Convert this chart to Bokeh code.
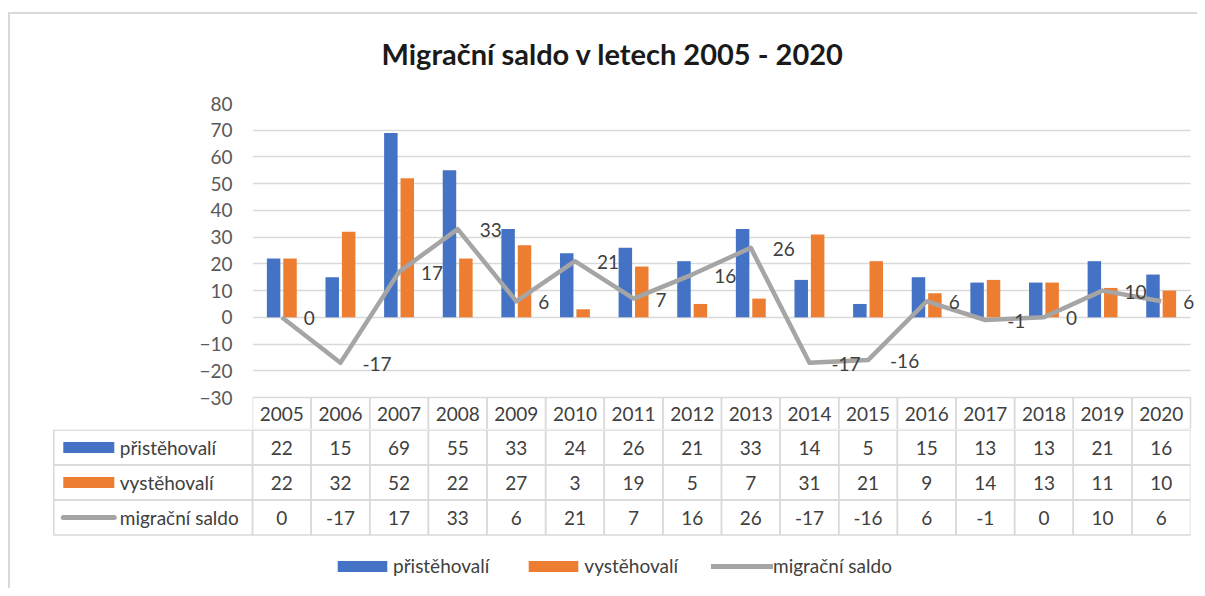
from bokeh.plotting import figure
from bokeh.models import (Range1d, FixedTicker, ColumnDataSource,
                          Legend, LegendItem, LabelSet)
from bokeh.layouts import column
from bokeh.embed import file_html
from bokeh.resources import INLINE
from bokeh.core.properties import value
from bokeh.transform import dodge

# ---------------- data ----------------
years = ["2005", "2006", "2007", "2008", "2009", "2010", "2011", "2012",
         "2013", "2014", "2015", "2016", "2017", "2018", "2019", "2020"]
pristehovali = [22, 15, 69, 55, 33, 24, 26, 21, 33, 14, 5, 15, 13, 13, 21, 16]
vystehovali = [22, 32, 52, 22, 27, 3, 19, 5, 7, 31, 21, 9, 14, 13, 11, 10]
saldo = [0, -17, 17, 33, 6, 21, 7, 16, 26, -17, -16, 6, -1, 0, 10, 6]
series_names = ["přistěhovalí", "vystěhovalí", "migrační saldo"]
y_ticks = [-30, -20, -10, 0, 10, 20, 30, 40, 50, 60, 70, 80]
title_text = "Migrační saldo v letech 2005 - 2020"

# ---------------- style / layout ----------------
BLUE = "#4472c4"
ORANGE = "#ed7d31"
GRAY = "#a5a5a5"
GRID = "#d9d9d9"
TXT = "#404040"
FONT = "Lato"
FS = "19px"

X0 = 8             # page x where the figures start
W = 1189
FRAME_L = 252      # page x of the plot frame's left edge
TABLE_R = 1190     # page x of the right edge of the category area
ML1 = FRAME_L - X0
MR1 = 0
TOP1 = 103         # frame top at y=103
CHART_PX = 294     # height of the value area (-30..80)
HDR = 32           # header row of the data table (px)
ROW = 35           # data rows of the table (px)
H1 = TOP1 + CHART_PX + HDR
H2 = 159

n = len(years)
col_px = (TABLE_R - FRAME_L) / n
x1_end = n + (X0 + W - TABLE_R) / col_px
px_per_unit = CHART_PX / (y_ticks[-1] - y_ticks[0])
hdr_units = HDR / px_per_unit
y_bottom = y_ticks[0] - hdr_units

src = ColumnDataSource(dict(
    xc=[i + 0.5 for i in range(n)],
    year=years, pri=pristehovali, vys=vystehovali, saldo=saldo,
    saldo_txt=[str(v) for v in saldo],
    hdr_y=[y_ticks[0] - hdr_units / 2] * n,
))

# ---------------- chart (with table header row) ----------------
p1 = figure(width=W, height=H1,
            x_range=Range1d(0, x1_end),
            y_range=Range1d(y_bottom, y_ticks[-1]),
            output_backend="svg", toolbar_location=None,
            x_axis_location=None,
            min_border_left=ML1, min_border_right=MR1,
            min_border_top=TOP1, min_border_bottom=0)
p1.outline_line_color = None
p1.border_fill_color = None
p1.background_fill_color = None
p1.xgrid.visible = False
p1.ygrid.ticker = FixedTicker(ticks=y_ticks[1:])
p1.ygrid.grid_line_color = GRID
p1.ygrid.grid_line_width = 1.3
try:
    p1.ygrid.cross_bounds = (0, n)
except Exception:
    pass

p1.yaxis.ticker = FixedTicker(ticks=y_ticks)
p1.yaxis.axis_line_color = None
p1.yaxis.major_tick_line_color = None
p1.yaxis.minor_tick_line_color = None
p1.yaxis.major_label_standoff = 14
p1.yaxis.major_label_text_font = FONT
p1.yaxis.major_label_text_font_size = FS
p1.yaxis.major_label_text_color = "#595959"

p1.title.text = title_text
p1.title.align = "left"
p1.title.vertical_align = "middle"
p1.title.offset = 129
p1.title.standoff = 64
p1.title.text_font = FONT
p1.title.text_font_size = "29px"
p1.title.text_font_style = "bold"
p1.title.text_color = "#1a1a1a"

p1.vbar(x=dodge("xc", -0.14), top="pri", width=0.23,
        source=src, fill_color=BLUE, line_color=None)
p1.vbar(x=dodge("xc", 0.14), top="vys", width=0.23,
        source=src, fill_color=ORANGE, line_color=None)
p1.line(x="xc", y="saldo", source=src, line_color=GRAY, line_width=4.5,
        line_join="round")
labels = LabelSet(x="xc", y="saldo", text="saldo_txt", source=src,
                  x_offset=22, y_offset=-1, text_align="left",
                  text_baseline="middle", text_font=value(FONT),
                  text_font_size=FS, text_color=TXT)
p1.add_layout(labels)

# header row of the data table
p1.rect(x="xc", y="hdr_y", width=1, height=hdr_units, source=src,
        fill_color=None, line_color=GRID, line_width=1.5)
p1.text(x="xc", y="hdr_y", text="year", source=src, text_align="center",
        text_baseline="middle", text_font=value(FONT), text_font_size=FS,
        text_color=TXT)

# ---------------- data table rows + legend ----------------
ML2 = 52 - X0
MR2 = X0 + W - TABLE_R
frame2_w = W - ML2 - MR2
x2_start = n - frame2_w / col_px
lab_left = (53.3 - FRAME_L) / col_px

p2 = figure(width=W, height=H2,
            x_range=Range1d(x2_start, n), y_range=Range1d(H2, 0),
            output_backend="svg", toolbar_location=None,
            x_axis_location=None, y_axis_location=None,
            min_border_left=ML2, min_border_right=MR2,
            min_border_top=0, min_border_bottom=0)
p2.outline_line_color = None
p2.border_fill_color = None
p2.background_fill_color = None
p2.grid.visible = False

xc = [i + 0.5 for i in range(n)]
row_c = [ROW * (r + 0.5) + 0.5 for r in range(3)]

cx, cy = [], []
for r in range(3):
    cx += xc
    cy += [row_c[r]] * n
p2.rect(x=cx, y=cy, width=1, height=ROW, fill_color=None,
        line_color=GRID, line_width=1.5)
p2.rect(x=[lab_left / 2] * 3, y=row_c, width=-lab_left, height=ROW,
        fill_color=None, line_color=GRID, line_width=1.5)

vals = [str(v) for v in pristehovali] + [str(v) for v in vystehovali] + \
       [str(v) for v in saldo]
p2.text(x=cx, y=cy, text=vals, text_align="center", text_baseline="middle",
        text_font=value(FONT), text_font_size=FS, text_color=TXT)

# legend keys in the label column
sw_c = (88.3 - FRAME_L) / col_px
sw_half = 25.5 / col_px
r_blue = p2.rect(x=[sw_c], y=[row_c[0]], width=51, height=11,
                 width_units="screen", height_units="screen",
                 fill_color=BLUE, line_color=None)
r_orange = p2.rect(x=[sw_c], y=[row_c[1]], width=51, height=11,
                   width_units="screen", height_units="screen",
                   fill_color=ORANGE, line_color=None)
r_gray = p2.line(x=[sw_c - sw_half, sw_c + sw_half], y=[row_c[2], row_c[2]],
                 line_color=GRAY, line_width=5, line_cap="round")
p2.text(x=[(119.3 - FRAME_L) / col_px] * 3, y=row_c, text=series_names,
        text_align="left", text_baseline="middle", text_font=value(FONT),
        text_font_size=FS, text_color=TXT)

legend = Legend(items=[LegendItem(label=series_names[0], renderers=[r_blue]),
                       LegendItem(label=series_names[1], renderers=[r_orange]),
                       LegendItem(label=series_names[2], renderers=[r_gray])],
                orientation="horizontal", location=(279, 11),
                glyph_width=62, glyph_height=14, label_standoff=0,
                spacing=33, padding=0, margin=0,
                border_line_color=None, background_fill_alpha=0,
                label_text_font=FONT, label_text_font_size=FS,
                label_text_color=TXT)
p2.add_layout(legend)

LINE = "linear-gradient(#d9d9d9, #d9d9d9)"
top_part = column(p1, styles={
    "margin-left": "8px",
    "background": f"{LINE} 0 12px / 100% 2px no-repeat, "
                  f"{LINE} 0 12px / 2px 100% no-repeat",
})
bottom_part = column(p2, styles={
    "margin-left": "8px",
    "background": f"{LINE} 0 0 / 2px 100% no-repeat",
})

open("out.html", "w").write(file_html([top_part, bottom_part], INLINE))
